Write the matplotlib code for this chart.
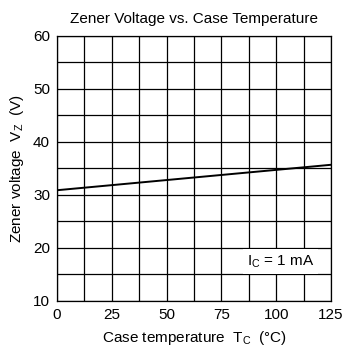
import numpy as np
import matplotlib
matplotlib.use("Agg")
import matplotlib.pyplot as plt

plt.rcParams['font.family'] = ['Liberation Sans', 'DejaVu Sans']

# Zener voltage vs case temperature at Ic = 1 mA
temp_c = [0, 125]
vz = [30.9, 35.7]

x_major = [0, 25, 50, 75, 100, 125]
y_major = [10, 20, 30, 40, 50, 60]

fig = plt.figure(figsize=(3.44, 3.56), dpi=100)
ax = fig.add_axes([0.1657, 0.1545, 0.7965, 0.7444])

ax.plot(temp_c, vz, color='black', lw=1.4, zorder=3)

ax.set_xlim(0, 125)
ax.set_ylim(10, 60)
ax.set_xticks(x_major)
ax.set_xticks(np.arange(0, 126, 12.5), minor=True)
ax.set_yticks(y_major)
ax.set_yticks(np.arange(10, 61, 5), minor=True)
ax.grid(which='both', color='black', lw=0.9)
ax.set_axisbelow(True)
ax.tick_params(which='both', length=0, labelsize=11, pad=5)
for s in ax.spines.values():
    s.set_color('black')
    s.set_linewidth(0.9)

ax.text(102, 17.5, r'I$_\mathregular{C}$ = 1 mA', fontsize=11,
        ha='center', va='center', zorder=4,
        bbox=dict(facecolor='white', edgecolor='none', pad=3))

ax.set_title('Zener Voltage vs. Case Temperature', fontsize=11, pad=9)
ax.set_xlabel(r'Case temperature  T$_\mathregular{C}$  (°C)', fontsize=11, labelpad=5)
ax.set_ylabel(r'Zener voltage  V$_\mathregular{Z}$  (V)', fontsize=11, labelpad=5)

fig.savefig('out.png', dpi=100)
